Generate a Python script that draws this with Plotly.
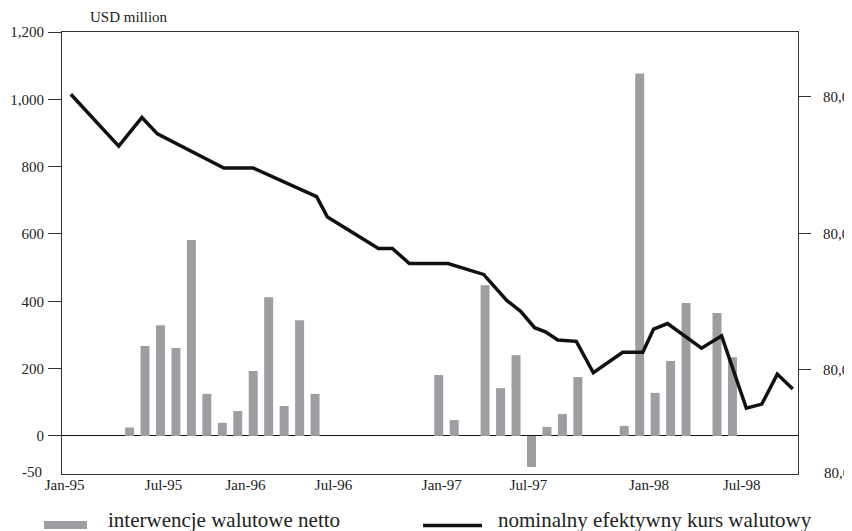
import plotly.graph_objects as go

# ---- data ----
bar_month = [4, 5, 6, 7, 8, 9, 10, 11, 12, 13, 14, 15, 16,
             24, 25, 27, 28, 29, 30, 31, 32, 33, 36, 37, 38, 39, 40, 42, 43]
bar_values = [25, 267, 329, 261, 582, 125, 39, 74, 193, 412, 89, 344, 125,
              181, 47, 448, 142, 240, -92, 27, 65, 175, 30, 1077, 128, 223, 395, 365, 234]

line_month = [0.2, 3.3, 4.8, 5.8, 10.1, 12.0, 16.1, 16.8, 20.1, 21.0, 22.1, 24.6, 26.9,
              28.4, 29.3, 30.2, 30.9, 31.7, 32.9, 34.0, 35.9, 37.2, 37.9, 38.8, 41.0,
              42.3, 43.9, 44.9, 45.9, 46.9]
line_values = [100.2, 96.4, 98.5, 97.3, 94.8, 94.8, 92.7, 91.2, 88.9, 88.9, 87.8, 87.8, 87.0,
               85.1, 84.3, 83.1, 82.8, 82.2, 82.1, 79.8, 81.3, 81.3, 83.0, 83.4, 81.6,
               82.5, 77.2, 77.5, 79.7, 78.6]

x_tick_pos = [-0.2, 6.2, 11.5, 17.2, 24.2, 29.8, 37.6, 43.6]
x_tick_labels = ["Jan-95", "Jul-95", "Jan-96", "Jul-96", "Jan-97", "Jul-97", "Jan-98", "Jul-98"]

left_tick_vals = [0, 200, 400, 600, 800, 1000, 1200]
left_tick_labels = ["0", "200", "400", "600", "800", "1,000", "1,200"]
right_tick_vals = [100, 90, 80]
right_tick_labels = ["80,0", "80,0", "80,0"]

bar_name = "interwencje walutowe netto"
line_name = "nominalny efektywny kurs walutowy"

FONT = "Liberation Serif, Times New Roman, serif"
BAR_COLOR = "#9d9ea2"
AX = "#333333"

fig = go.Figure()
fig.add_trace(go.Bar(x=bar_month, y=bar_values, marker_color=BAR_COLOR,
                     marker_line_width=0, name=bar_name, yaxis="y"))
fig.add_trace(go.Scatter(x=line_month, y=line_values, mode="lines",
                         line=dict(color="#111111", width=3.5), name=line_name, yaxis="y2"))

# page has an 8px body margin: the figure is placed at (8, 8) in the window
OFF = 8
WIN_W, WIN_H = 852, 531
W, H = WIN_W - OFF, WIN_H - OFF
PL, PR, PT, PB = 62, 798, 32, 474          # plot area in window pixels
L, R, T, B = PL - OFF, WIN_W - PR, PT - OFF, WIN_H - PB
pw, ph = W - L - R, H - T - B


def px(xp):
    return (xp - PL) / pw


def py(yp):
    return (PB - yp) / ph


fig.update_layout(
    width=W, height=H,
    margin=dict(l=L, r=R, t=T, b=B, autoexpand=False),
    paper_bgcolor="white", plot_bgcolor="white",
    showlegend=False,
    bargap=0.42,
    font=dict(family=FONT, size=15, color="#222222"),
    xaxis=dict(range=[-0.37, 47.24], tickmode="array", tickvals=x_tick_pos,
               ticktext=x_tick_labels, showgrid=False, zeroline=False,
               showline=True, mirror=True, linecolor=AX, linewidth=1,
               ticks="", ticklabelstandoff=-3, automargin=False),
    yaxis=dict(range=[-113, 1200], tickmode="array", tickvals=left_tick_vals,
               ticktext=left_tick_labels, showgrid=False,
               zeroline=True, zerolinecolor="#111111", zerolinewidth=1,
               showline=True, linecolor=AX, linewidth=1,
               ticks="outside", ticklen=13, tickcolor=AX, tickwidth=1,
               ticklabelstandoff=1, automargin=False),
    yaxis2=dict(range=[72.38, 104.76], overlaying="y", side="right",
                tickmode="array", tickvals=right_tick_vals, ticktext=right_tick_labels,
                showgrid=False, zeroline=False, showline=True, linecolor=AX, linewidth=1,
                ticks="outside", ticklen=12, tickcolor=AX, tickwidth=1,
                ticklabelstandoff=9, automargin=False),
)

# axis title and the out-of-scale bottom labels
fig.add_annotation(text="USD million", xref="paper", yref="paper", x=px(88), y=py(17),
                   xanchor="left", yanchor="middle", showarrow=False,
                   font=dict(family=FONT, size=15, color="#222222"))
fig.add_annotation(text="-50", xref="paper", yref="paper", x=px(44), y=py(472),
                   xanchor="right", yanchor="middle", showarrow=False,
                   font=dict(family=FONT, size=15, color="#222222"))
fig.add_annotation(text="80,0", xref="paper", yref="paper", x=px(822), y=py(473),
                   xanchor="left", yanchor="middle", showarrow=False,
                   font=dict(family=FONT, size=15, color="#222222"))

# legend (drawn manually)
fig.add_shape(type="rect", xref="paper", yref="paper", x0=px(44), x1=px(87),
              y0=py(529), y1=py(521), fillcolor=BAR_COLOR, line_width=0)
fig.add_shape(type="line", xref="paper", yref="paper", x0=px(423), x1=px(482),
              y0=py(525.5), y1=py(525.5), line=dict(color="#111111", width=3.5))
fig.add_annotation(text=bar_name, xref="paper", yref="paper", x=px(106), y=py(520),
                   xanchor="left", yanchor="middle", showarrow=False,
                   font=dict(family=FONT, size=21, color="#222222"))
fig.add_annotation(text=line_name, xref="paper", yref="paper", x=px(496), y=py(520),
                   xanchor="left", yanchor="middle", showarrow=False,
                   font=dict(family=FONT, size=21, color="#222222"))

fig.write_html("out.html")
